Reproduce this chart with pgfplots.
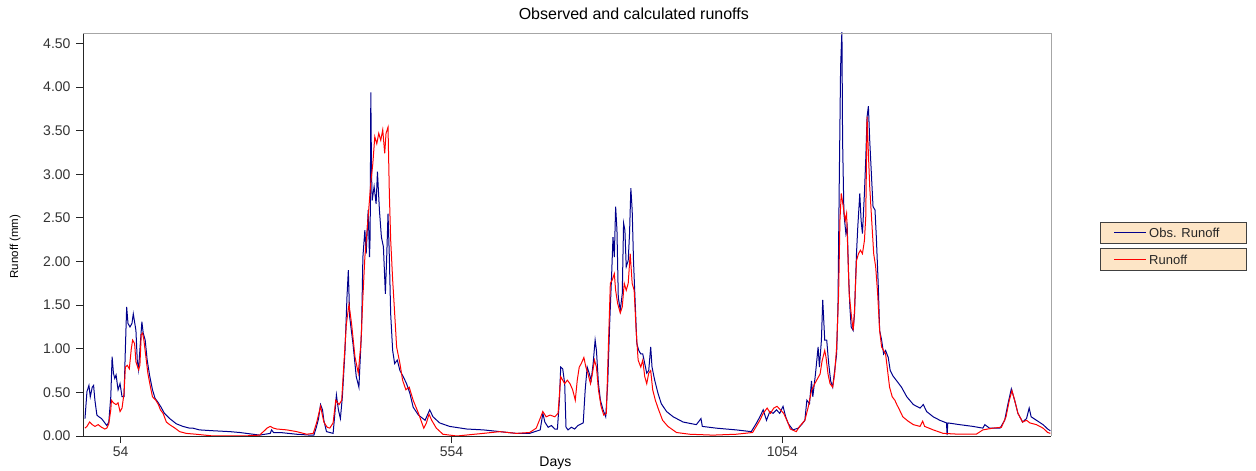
\documentclass[border=0pt]{standalone}
\usepackage{fontspec}
\setmainfont{Liberation Sans}
\usepackage{pgfplots}
\pgfplotsset{compat=1.18}
\definecolor{obsblue}{RGB}{0,0,140}
\definecolor{simred}{RGB}{255,0,0}
\definecolor{legfill}{RGB}{253,229,198}
\begin{document}
\begin{tikzpicture}[x=1bp,y=1bp]
\path[use as bounding box] (-83,-35) rectangle (1173,436);
\begin{axis}[
  at={(0,0)}, anchor=south west,
  scale only axis, width=968bp, height=403bp,
  xmin=-3, xmax=1460, ymin=0, ymax=4.62,
  xtick={54,554,1054},
  xticklabel style={/pgf/number format/set thousands separator={}},
  ytick={0,0.5,1,1.5,2,2.5,3,3.5,4,4.5},
  yticklabel style={/pgf/number format/fixed, /pgf/number format/fixed zerofill, /pgf/number format/precision=2, xshift=-2bp},
  /pgf/number format/assume math mode=true,
  axis x line*=bottom, axis y line*=left,
  axis line style={black!85, line width=0.9bp},
  tick align=outside,
  major tick length=7bp,
  tick style={black!85, line width=0.9bp},
  ticklabel style={font=\fontsize{14bp}{16bp}\selectfont, text=black!80},
  every axis x label/.style={at={(axis description cs:0.488,-0.067)}, anchor=center, font=\fontsize{14bp}{16bp}\selectfont},
  every axis y label/.style={at={(axis description cs:-0.0702,0.47)}, rotate=90, anchor=center, font=\fontsize{11.5bp}{13bp}\selectfont},
  every axis title/.style={at={(axis description cs:0.569,1.047)}, anchor=center, font=\fontsize{16bp}{18bp}\selectfont},
  xlabel={Days}, ylabel={Runoff (mm)},
  title={Observed and calculated runoffs},
]
\addplot[obsblue, line width=1bp] coordinates {
(0,0.20)(3,0.51)(6,0.58)(8,0.45)(11,0.56)(13,0.58)(15,0.41)(18,0.24)(21,0.22)(25,0.20)(30,0.15)(33,0.12)(36,0.16)(39,0.45)(40,0.68)(41,0.91)(43,0.72)(45,0.66)(47,0.70)(50,0.53)(53,0.60)(56,0.45)(59,0.45)(61,0.99)(63,1.48)(65,1.29)(68,1.25)(71,1.29)(73,1.40)(77,1.21)(79,0.87)(81,0.76)(83,0.99)(86,1.31)(88,1.18)(91,1.10)(94,0.87)(98,0.68)(102,0.53)(106,0.43)(110,0.39)(115,0.33)(120,0.26)(128,0.20)(138,0.14)(148,0.11)(158,0.09)(163,0.09)(173,0.07)(194,0.06)(219,0.05)(234,0.04)(244,0.03)(264,0.01)(280,0.03)(282,0.07)(285,0.04)(295,0.04)(320,0.02)(340,0.01)(346,0.01)(350,0.11)(353,0.20)(356,0.36)(359,0.30)(361,0.18)(365,0.05)(375,0.03)(377,0.20)(380,0.47)(383,0.30)(386,0.20)(389,0.45)(393,0.98)(396,1.60)(398,1.90)(400,1.37)(405,1.06)(410,0.68)(414,0.56)(418,1.21)(420,2.05)(423,2.36)(425,2.09)(428,2.59)(430,2.05)(431,2.30)(432,3.94)(433,3.05)(434,2.70)(437,2.86)(440,2.66)(442,3.03)(445,2.59)(448,2.28)(451,2.17)(454,1.63)(456,2.05)(458,2.55)(460,2.05)(462,1.40)(465,0.98)(468,0.83)(472,0.87)(476,0.75)(481,0.68)(486,0.60)(491,0.49)(496,0.33)(504,0.24)(514,0.18)(521,0.30)(526,0.22)(536,0.15)(551,0.11)(577,0.08)(602,0.07)(627,0.05)(652,0.03)(672,0.03)(688,0.07)(692,0.26)(695,0.16)(700,0.10)(705,0.12)(710,0.08)(714,0.08)(717,0.41)(719,0.79)(722,0.77)(725,0.60)(727,0.10)(730,0.07)(735,0.10)(740,0.08)(745,0.12)(753,0.15)(756,0.53)(759,0.79)(762,0.72)(765,0.64)(768,0.83)(771,1.10)(773,0.98)(776,0.60)(779,0.41)(783,0.30)(787,0.22)(790,0.60)(793,1.29)(796,1.86)(798,2.28)(800,2.05)(802,2.63)(804,2.36)(806,1.59)(809,1.44)(812,1.63)(814,2.44)(816,2.36)(818,1.94)(821,2.01)(823,2.32)(825,2.84)(827,2.59)(829,2.01)(832,1.44)(834,1.06)(837,0.98)(840,0.94)(843,0.94)(846,0.83)(849,0.72)(852,0.75)(855,1.02)(857,0.79)(861,0.64)(866,0.49)(871,0.37)(879,0.28)(889,0.22)(904,0.16)(924,0.13)(931,0.20)(933,0.11)(954,0.09)(984,0.07)(1007,0.05)(1015,0.15)(1020,0.22)(1025,0.30)(1030,0.18)(1035,0.28)(1040,0.26)(1045,0.30)(1050,0.26)(1055,0.34)(1059,0.22)(1063,0.14)(1070,0.07)(1078,0.09)(1083,0.13)(1088,0.18)(1091,0.41)(1095,0.37)(1098,0.63)(1100,0.45)(1104,0.71)(1108,1.02)(1110,0.79)(1113,1.10)(1115,1.56)(1118,1.10)(1121,1.10)(1124,0.83)(1127,0.63)(1130,0.56)(1133,0.75)(1136,0.94)(1138,1.48)(1140,2.93)(1142,4.23)(1144,4.65)(1145,3.39)(1147,2.55)(1150,2.32)(1152,2.40)(1154,1.86)(1156,1.48)(1158,1.25)(1161,1.21)(1163,1.40)(1166,2.09)(1168,2.40)(1171,2.78)(1173,2.47)(1175,2.32)(1178,2.78)(1180,3.17)(1182,3.66)(1184,3.78)(1186,3.39)(1189,2.93)(1191,2.63)(1194,2.59)(1196,2.28)(1199,1.71)(1201,1.21)(1204,1.10)(1207,0.94)(1210,0.98)(1214,0.90)(1217,0.75)(1221,0.69)(1227,0.63)(1234,0.56)(1242,0.45)(1252,0.36)(1262,0.32)(1267,0.36)(1272,0.28)(1282,0.22)(1292,0.18)(1302,0.15)(1303,0.01)(1304,0.15)(1322,0.13)(1342,0.11)(1357,0.09)(1360,0.13)(1367,0.09)(1383,0.09)(1390,0.18)(1395,0.37)(1400,0.54)(1405,0.41)(1410,0.26)(1417,0.16)(1423,0.20)(1427,0.32)(1430,0.22)(1438,0.18)(1448,0.13)(1455,0.08)(1459,0.06)
};
\addplot[simred, line width=1bp] coordinates {
(0,0.09)(3,0.11)(7,0.16)(11,0.13)(15,0.11)(20,0.13)(25,0.10)(30,0.08)(33,0.09)(36,0.14)(39,0.30)(40,0.41)(43,0.38)(47,0.36)(50,0.38)(53,0.28)(56,0.32)(59,0.49)(61,0.79)(64,0.81)(67,0.77)(70,1.00)(72,1.10)(75,1.06)(77,0.85)(81,0.76)(83,0.81)(85,1.16)(87,1.18)(89,1.10)(92,0.91)(95,0.72)(99,0.56)(102,0.45)(107,0.41)(111,0.36)(114,0.30)(118,0.26)(123,0.16)(128,0.13)(136,0.09)(143,0.05)(153,0.03)(168,0.02)(194,0.00)(240,0.00)(264,0.01)(271,0.06)(275,0.09)(280,0.11)(285,0.09)(290,0.08)(305,0.07)(320,0.05)(335,0.02)(345,0.03)(350,0.15)(356,0.34)(361,0.16)(366,0.10)(370,0.09)(375,0.15)(379,0.41)(384,0.36)(388,0.41)(391,0.79)(395,1.28)(399,1.51)(403,1.28)(408,0.91)(413,0.72)(417,1.06)(420,1.59)(423,2.05)(428,2.51)(432,2.91)(435,3.12)(438,3.43)(441,3.35)(444,3.47)(447,3.39)(450,3.51)(453,3.24)(455,3.47)(458,3.54)(460,2.78)(462,2.25)(465,1.79)(468,1.41)(471,1.02)(476,0.83)(480,0.64)(485,0.53)(490,0.56)(496,0.41)(504,0.26)(512,0.09)(516,0.15)(520,0.25)(524,0.18)(531,0.09)(541,0.02)(562,0.00)(602,0.03)(627,0.05)(652,0.03)(672,0.04)(682,0.09)(692,0.28)(697,0.22)(703,0.24)(710,0.22)(715,0.26)(719,0.68)(722,0.64)(725,0.60)(729,0.64)(733,0.60)(737,0.53)(741,0.41)(744,0.64)(747,0.79)(750,0.83)(754,0.90)(757,0.79)(760,0.72)(764,0.60)(767,0.72)(770,0.87)(773,0.79)(776,0.53)(780,0.34)(784,0.24)(788,0.26)(791,1.02)(794,1.75)(797,1.79)(800,1.86)(802,1.67)(805,1.52)(809,1.41)(812,1.48)(815,1.75)(818,1.67)(821,1.75)(824,2.09)(827,1.75)(830,1.67)(833,1.21)(836,0.87)(840,0.79)(843,0.87)(846,0.68)(849,0.60)(852,0.72)(855,0.75)(858,0.53)(862,0.41)(867,0.30)(873,0.18)(881,0.11)(894,0.04)(914,0.02)(949,0.01)(984,0.02)(1009,0.04)(1020,0.18)(1025,0.26)(1031,0.32)(1036,0.26)(1041,0.32)(1046,0.34)(1051,0.30)(1056,0.26)(1062,0.16)(1066,0.08)(1075,0.05)(1080,0.11)(1088,0.18)(1093,0.33)(1098,0.52)(1103,0.60)(1108,0.67)(1111,0.71)(1114,0.86)(1118,0.98)(1120,0.90)(1123,0.71)(1126,0.60)(1130,0.56)(1133,0.71)(1136,1.02)(1139,1.63)(1141,2.47)(1143,2.78)(1146,2.63)(1149,2.47)(1151,2.55)(1153,2.09)(1155,1.63)(1158,1.40)(1161,1.21)(1163,1.44)(1166,2.01)(1169,2.09)(1172,2.13)(1175,2.09)(1178,2.24)(1180,2.51)(1182,3.66)(1184,3.24)(1186,2.86)(1189,2.47)(1192,2.09)(1195,1.94)(1198,1.63)(1201,1.21)(1204,1.02)(1207,0.98)(1210,0.94)(1213,0.75)(1216,0.56)(1220,0.45)(1224,0.41)(1227,0.36)(1231,0.30)(1236,0.22)(1244,0.17)(1252,0.13)(1262,0.11)(1266,0.17)(1269,0.11)(1282,0.07)(1297,0.03)(1322,0.02)(1347,0.02)(1357,0.07)(1372,0.09)(1385,0.10)(1392,0.22)(1397,0.41)(1401,0.52)(1405,0.41)(1410,0.26)(1417,0.16)(1423,0.18)(1428,0.15)(1438,0.13)(1448,0.09)(1455,0.04)(1459,0.03)
};
\end{axis}
\draw[gray!70, line width=0.9bp] (0,403) -- (968,403) -- (968,0);
% legend
\draw[fill=legfill, draw=black!75, line width=0.9bp] (1017,192.7) rectangle (1163,213.3);
\draw[obsblue, line width=1bp] (1031,203) -- (1063,203);
\node[anchor=west, inner sep=0pt, font=\fontsize{13bp}{15bp}\selectfont, text=black!85] at (1066,203) {Obs. Runoff};
\draw[fill=legfill, draw=black!75, line width=0.9bp] (1017,165.3) rectangle (1163,187.7);
\draw[simred, line width=1bp] (1031,176.5) -- (1063,176.5);
\node[anchor=west, inner sep=0pt, font=\fontsize{13bp}{15bp}\selectfont, text=black!85] at (1066,176.5) {Runoff};
\end{tikzpicture}
\end{document}
